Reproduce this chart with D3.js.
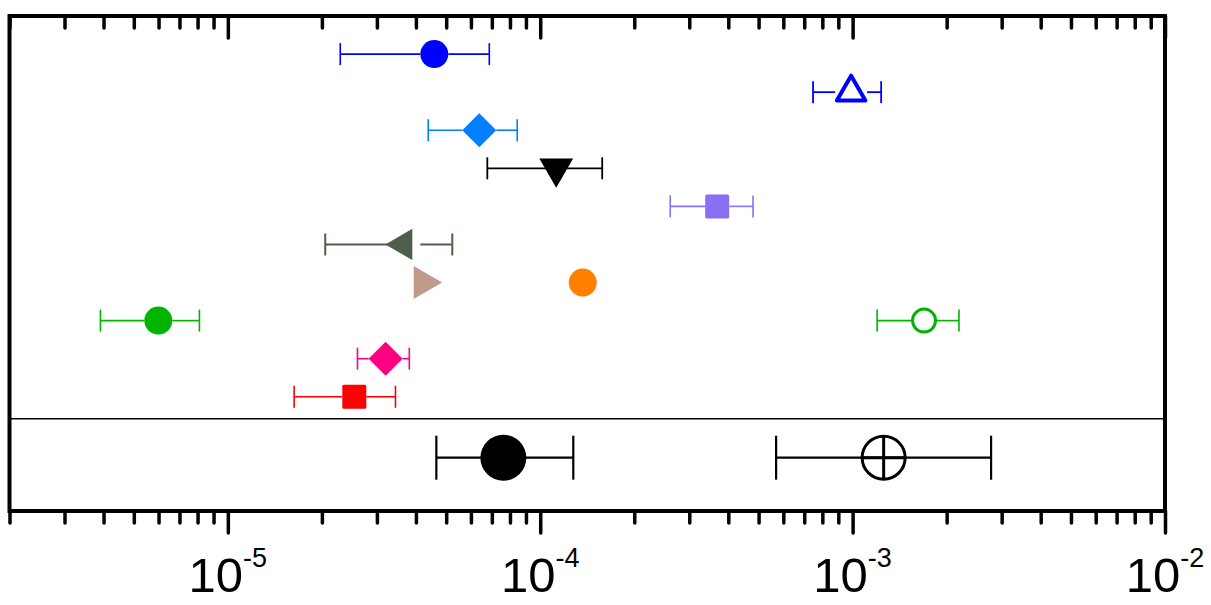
<!DOCTYPE html>
<html>
<head>
<meta charset="utf-8">
<script src="https://cdn.jsdelivr.net/npm/d3@7"></script>
<style>
  html, body { margin: 0; padding: 0; background: #fff; }
  svg { display: block; font-family: Arial, "Liberation Sans", sans-serif; }
</style>
</head>
<body>
<svg id="chart" width="1211" height="605"></svg>
<script>
// ---- data ----
const centers = [4.58e-5, 9.89e-4, 6.38e-5, 1.125e-4, 3.685e-4, 3.645e-5, 4.22e-5, 1.368e-4, 5.99e-6, 1.693e-3, 3.20e-5, 2.54e-5, 7.62e-5, 1.257e-3];
const lows    = [2.29e-5, 7.47e-4, 4.38e-5, 6.77e-5, 2.607e-4, 2.05e-5, null, null, 3.91e-6, 1.198e-3, 2.60e-5, 1.63e-5, 4.65e-5, 5.69e-4];
const highs   = [6.87e-5, 1.234e-3, 8.44e-5, 1.579e-4, 4.80e-4, 5.23e-5, null, null, 8.11e-6, 2.19e-3, 3.81e-5, 3.44e-5, 1.276e-4, 2.775e-3];
const rows    = [1, 2, 3, 4, 5, 6, 7, 7, 8, 8, 9, 10, 11.6, 11.6];
const separatorRow = 10.58;
const majorTicks = [1e-5, 1e-4, 1e-3, 1e-2];
const tickExponents = ["-5", "-4", "-3", "-2"];

// ---- styles ----
const shapes = ["circle", "triUpOpen", "diamond", "triDown", "square", "triLeft", "triRight", "circle", "circle", "circleOpen", "diamond", "square", "bigCircle", "crossCircle"];
const colors = ["#0000ff", "#0000ff", "#0080ff", "#000000", "#8c6ef2", "#4f5f4b", "#c09b8b", "#ff8000", "#00b400", "#00b400", "#ff0080", "#ff0000", "#000000", "#000000"];

(function () {
const svg = d3.select("#chart");
const pL = 9.5, pR = 1165, pT = 16, pB = 511;

const x = d3.scaleLog().domain([2e-6, 1e-2]).range([pL, pR]);
const y = d3.scaleLinear().domain([0, 13]).range([pT, pB]);

const allTicks = x.ticks();
const minorTicks = allTicks.filter(t => !majorTicks.some(m => Math.abs(m - t) / m < 1e-9));

function styleAxis(g) {
  g.select(".domain").remove();
  g.selectAll(".tick line").attr("stroke", "#000").attr("stroke-width", 3.5).attr("stroke-linecap", "round");
  g.selectAll(".tick text").remove();
}

// top axis (ticks inward)
svg.append("g").attr("transform", `translate(0,${pT})`)
  .call(d3.axisBottom(x).tickValues(minorTicks).tickSize(12).tickFormat(""))
  .call(styleAxis);
svg.append("g").attr("transform", `translate(0,${pT})`)
  .call(d3.axisBottom(x).tickValues(majorTicks).tickSize(22).tickFormat(""))
  .call(styleAxis);
// bottom axis (ticks outward)
svg.append("g").attr("transform", `translate(0,${pB})`)
  .call(d3.axisBottom(x).tickValues(minorTicks).tickSize(12).tickFormat(""))
  .call(styleAxis);
svg.append("g").attr("transform", `translate(0,${pB})`)
  .call(d3.axisBottom(x).tickValues(majorTicks).tickSize(22).tickFormat(""))
  .call(styleAxis);

// tick labels
majorTicks.forEach((t, i) => {
  const txt = svg.append("text")
    .attr("x", x(t)).attr("y", 592)
    .attr("text-anchor", "middle")
    .attr("font-size", 49)
    .attr("fill", "#000");
  txt.append("tspan").text("10");
  txt.append("tspan").attr("dy", -25).attr("font-size", 27).text(tickExponents[i]);
});

// separator
svg.append("line")
  .attr("x1", pL).attr("x2", pR)
  .attr("y1", y(separatorRow)).attr("y2", y(separatorRow))
  .attr("stroke", "#000").attr("stroke-width", 1.5);

// frame
svg.append("rect")
  .attr("x", pL).attr("y", pT)
  .attr("width", pR - pL).attr("height", pB - pT)
  .attr("fill", "none").attr("stroke", "#000").attr("stroke-width", 4);

// marker geometry by shape
const geom = {
  circle:      { r: 14, gapL: 14, gapR: 14, cap: 11, ew: 1.6 },
  triUpOpen:   { r: 18.5, gapL: 16, gapR: 16, cap: 11, ew: 1.8 },
  diamond:     { r: 17, gapL: 17, gapR: 17, cap: 11, ew: 1.6 },
  triDown:     { r: 19.5, gapL: 0, gapR: 0, cap: 11, ew: 1.8 },
  square:      { r: 12, gapL: 12, gapR: 12, cap: 11, ew: 1.6 },
  triLeft:     { r: 18, gapL: 0, gapR: 17, cap: 11, ew: 2 },
  triRight:    { r: 19, gapL: 0, gapR: 0, cap: 11, ew: 1.6 },
  circleOpen:  { r: 11.5, gapL: 13, gapR: 13, cap: 11, ew: 1.6 },
  bigCircle:   { r: 23, gapL: 0, gapR: 0, cap: 22, ew: 2.2 },
  crossCircle: { r: 21.5, gapL: 0, gapR: 0, cap: 22, ew: 2.2 }
};

const g = svg.append("g");
centers.forEach((c, i) => {
  const cx = x(c), cy = y(rows[i]);
  const shp = shapes[i], col = colors[i], gm = geom[shp];
  if (lows[i] != null) {
    const xl = x(lows[i]), xh = x(highs[i]);
    const eb = g.append("g").attr("stroke", col).attr("stroke-width", gm.ew).attr("fill", "none");
    eb.append("line").attr("x1", xl).attr("x2", cx - gm.gapL).attr("y1", cy).attr("y2", cy);
    eb.append("line").attr("x1", cx + gm.gapR).attr("x2", xh).attr("y1", cy).attr("y2", cy);
    eb.append("line").attr("x1", xl).attr("x2", xl).attr("y1", cy - gm.cap).attr("y2", cy + gm.cap);
    eb.append("line").attr("x1", xh).attr("x2", xh).attr("y1", cy - gm.cap).attr("y2", cy + gm.cap);
  }
  const r = gm.r;
  const poly = (pts) => g.append("path").attr("d", "M" + pts.map(p => p.join(",")).join("L") + "Z");
  const k = 0.866;
  switch (shp) {
    case "circle":
    case "bigCircle":
      g.append("circle").attr("cx", cx).attr("cy", cy).attr("r", r).attr("fill", col);
      break;
    case "circleOpen":
      g.append("circle").attr("cx", cx).attr("cy", cy).attr("r", r).attr("fill", "#fff").attr("stroke", col).attr("stroke-width", 3);
      break;
    case "crossCircle":
      g.append("circle").attr("cx", cx).attr("cy", cy).attr("r", r).attr("fill", "none").attr("stroke", col).attr("stroke-width", 3);
      g.append("line").attr("x1", cx).attr("x2", cx).attr("y1", cy - r).attr("y2", cy + r).attr("stroke", col).attr("stroke-width", 3);
      g.append("line").attr("x1", cx - r).attr("x2", cx + r).attr("y1", cy).attr("y2", cy).attr("stroke", col).attr("stroke-width", 3);
      break;
    case "diamond":
      poly([[cx, cy - r], [cx + r, cy], [cx, cy + r], [cx - r, cy]]).attr("fill", col);
      break;
    case "square":
      g.append("rect").attr("x", cx - r).attr("y", cy - r).attr("width", 2 * r).attr("height", 2 * r).attr("rx", 1.5).attr("fill", col);
      break;
    case "triDown":
      poly([[cx - k * r, cy - 0.5 * r], [cx + k * r, cy - 0.5 * r], [cx, cy + r]]).attr("fill", col);
      break;
    case "triUpOpen":
      poly([[cx, cy - r + 2], [cx + k * (r - 2), cy + 0.5 * (r - 2)], [cx - k * (r - 2), cy + 0.5 * (r - 2)]])
        .attr("fill", "#fff").attr("stroke", col).attr("stroke-width", 4).attr("stroke-linejoin", "round");
      break;
    case "triLeft":
      poly([[cx - r, cy], [cx + 0.5 * r, cy - k * r], [cx + 0.5 * r, cy + k * r]]).attr("fill", col);
      break;
    case "triRight":
      poly([[cx + r, cy], [cx - 0.5 * r, cy - k * r], [cx - 0.5 * r, cy + k * r]]).attr("fill", col);
      break;
  }
});
})();
</script>
</body>
</html>
